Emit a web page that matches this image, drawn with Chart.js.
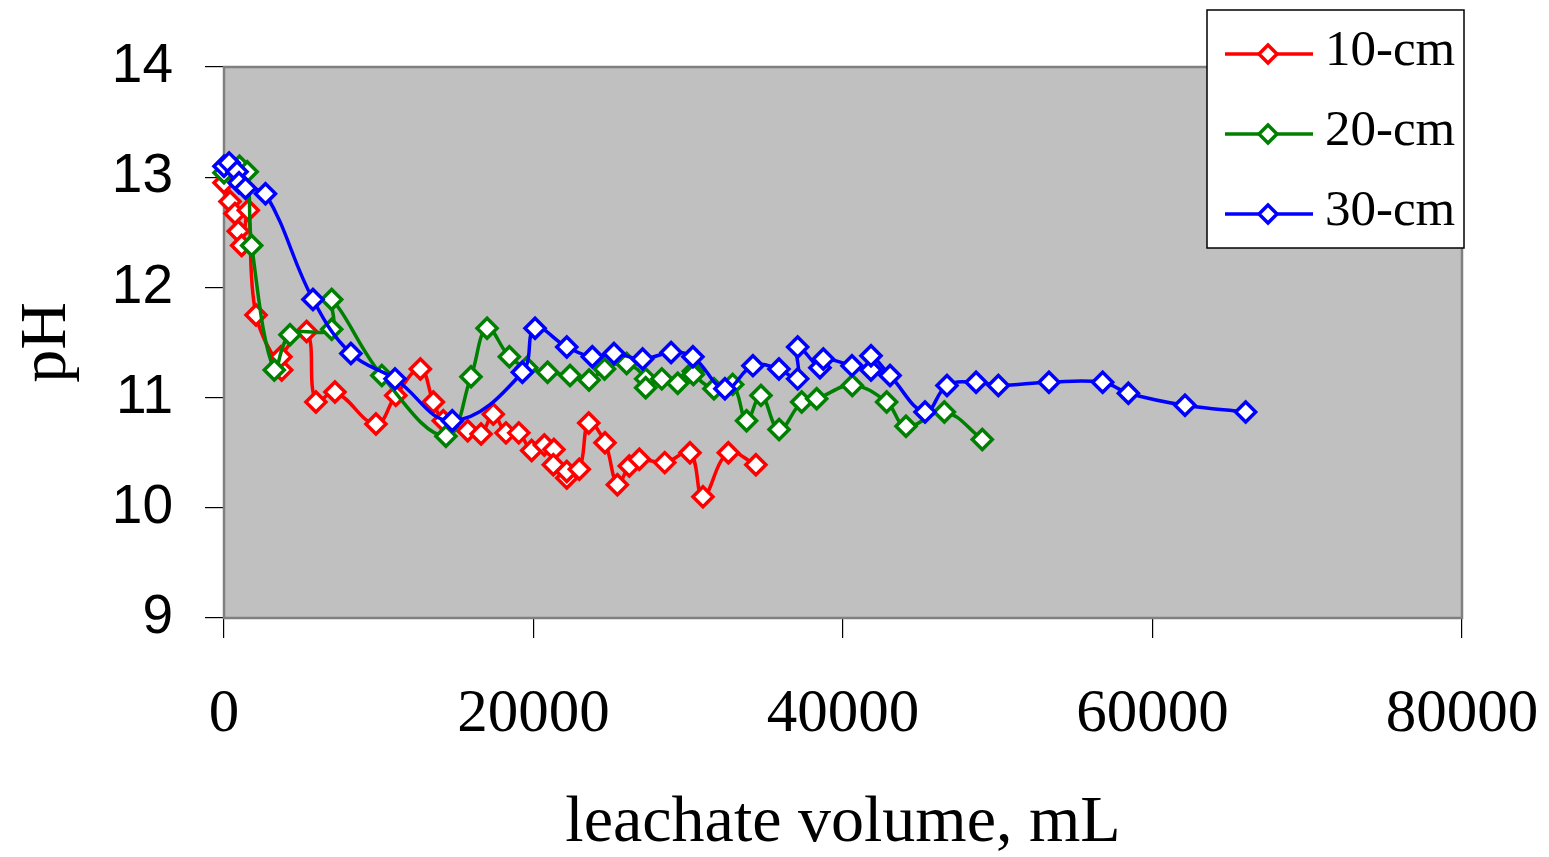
<!DOCTYPE html>
<html>
<head>
<meta charset="utf-8">
<script src="https://cdn.jsdelivr.net/npm/chart.js@4.4.0/dist/chart.umd.min.js"></script>
<style>
  html, body { margin: 0; padding: 0; background: #fff; }
  #wrap { width: 1549px; height: 857px; }
</style>
</head>
<body>
<div id="wrap"><canvas id="myChart" width="1549" height="857"></canvas></div>
<script>
// series labels and colours
const seriesNames = ['10-cm', '20-cm', '30-cm'];
const seriesColors = ['#ff0000', '#008000', '#0000ff'];

// 10-cm column: leachate volume (mL) and pH
const vol10 = [0, 390, 710, 920, 1140, 1570, 2070, 3730, 3680, 5340, 5940, 7170, 9820, 11100,
  12690, 13530, 14170, 15750, 16610, 17400, 18220, 19050, 19880, 20700, 21320, 21280, 22150,
  22150, 22960, 23570, 24620, 25420, 26190, 26840, 28480, 30110, 30950, 32590, 34370];
const ph10 = [12.95, 12.78, 12.67, 12.51, 12.38, 12.70, 11.75, 11.25, 11.37, 11.60, 10.96, 11.05,
  10.76, 11.02, 11.26, 10.96, 10.79, 10.70, 10.67, 10.85, 10.68, 10.68, 10.52, 10.57, 10.53,
  10.39, 10.27, 10.33, 10.35, 10.77, 10.59, 10.21, 10.38, 10.44, 10.41, 10.50, 10.10, 10.50, 10.39];

// 20-cm column
const vol20 = [0, 1000, 1500, 1790, 3250, 4265, 6960, 6960, 10200, 14340, 15960, 17000, 18440,
  19560, 20910, 22360, 23590, 24590, 26020, 27250, 27250, 28290, 29320, 30330, 30330, 31660,
  32870, 33770, 34700, 35870, 37330, 38300, 40600, 42820, 44070, 46550, 49000];
const ph20 = [13.04, 13.10, 13.05, 12.38, 11.25, 11.57, 11.62, 11.89, 11.20, 10.65, 11.19, 11.63,
  11.37, 11.27, 11.23, 11.20, 11.16, 11.26, 11.31, 11.17, 11.09, 11.17, 11.13, 11.24, 11.21,
  11.08, 11.12, 10.79, 11.02, 10.71, 10.96, 10.99, 11.11, 10.96, 10.74, 10.87, 10.62];

// 30-cm column
const vol30 = [0, 330, 840, 970, 1390, 2680, 5750, 8200, 11050, 14750, 19280, 20100, 22150, 23800,
  25200, 27050, 28890, 30300, 32370, 34180, 35860, 37070, 37070, 38510, 38730, 40580, 41810,
  41810, 43040, 45300, 46720, 48600, 50040, 53310, 56780, 58440, 62100, 66020];
const ph30 = [13.10, 13.13, 13.05, 12.95, 12.90, 12.85, 11.89, 11.40, 11.17, 10.79, 11.23, 11.63,
  11.46, 11.37, 11.40, 11.35, 11.41, 11.37, 11.08, 11.29, 11.26, 11.17, 11.46, 11.27, 11.35,
  11.29, 11.25, 11.38, 11.20, 10.87, 11.11, 11.14, 11.11, 11.14, 11.14, 11.04, 10.93, 10.87];

// axis ticks
const xTickValues = [0, 20000, 40000, 60000, 80000];
const yTickValues = [9, 10, 11, 12, 13, 14];

const serif = "'Liberation Serif', 'DejaVu Serif', serif";
const sans = "'Liberation Sans', Arial, sans-serif";

const toPoints = (xs, ys) => xs.map((x, i) => ({ x: x, y: ys[i] }));
const allSeries = [toPoints(vol10, ph10), toPoints(vol20, ph20), toPoints(vol30, ph30)];

const datasets = allSeries.map((pts, i) => ({
  label: seriesNames[i],
  data: pts,
  borderColor: seriesColors[i],
  backgroundColor: '#ffffff',
  borderWidth: 3.5,
  tension: 0.4,
  pointStyle: 'rectRot',
  pointRadius: 10,
  pointBorderWidth: 3.5,
  pointBorderColor: seriesColors[i],
  pointBackgroundColor: '#ffffff',
  clip: false,
  order: 3 - i
}));

// gray plot area with a frame
const plotBackground = {
  id: 'plotBackground',
  beforeDraw(chart) {
    const { ctx, chartArea: a } = chart;
    ctx.save();
    ctx.fillStyle = '#c0c0c0';
    ctx.fillRect(a.left, a.top, a.right - a.left, a.bottom - a.top);
    ctx.restore();
  },
  beforeDatasetsDraw(chart) {
    const { ctx, chartArea: a } = chart;
    ctx.save();
    ctx.strokeStyle = '#808080';
    ctx.lineWidth = 2.5;
    ctx.strokeRect(a.left, a.top, a.right - a.left, a.bottom - a.top);
    ctx.restore();
  }
};

// boxed legend top right: line + diamond + label
const boxLegend = {
  id: 'boxLegend',
  afterDraw(chart) {
    const { ctx } = chart;
    const left = 1207, top = 10, w = 257, h = 238;
    ctx.save();
    ctx.fillStyle = '#ffffff';
    ctx.fillRect(left, top, w, h);
    ctx.strokeStyle = '#000000';
    ctx.lineWidth = 1.5;
    ctx.strokeRect(left, top, w, h);
    const rows = [44, 124, 204];
    chart.data.datasets.forEach((ds, i) => {
      const y = top + rows[i];
      ctx.strokeStyle = ds.borderColor;
      ctx.lineWidth = 3.5;
      ctx.beginPath();
      ctx.moveTo(left + 18, y);
      ctx.lineTo(left + 106, y);
      ctx.stroke();
      ctx.fillStyle = '#ffffff';
      ctx.beginPath();
      ctx.moveTo(left + 61, y - 9);
      ctx.lineTo(left + 70, y);
      ctx.lineTo(left + 61, y + 9);
      ctx.lineTo(left + 52, y);
      ctx.closePath();
      ctx.fill();
      ctx.stroke();
      ctx.fillStyle = '#000000';
      ctx.font = '51px ' + serif;
      ctx.textAlign = 'left';
      ctx.textBaseline = 'middle';
      ctx.fillText(ds.label, left + 118, y - 2);
    });
    ctx.restore();
  }
};

new Chart(document.getElementById('myChart'), {
  type: 'line',
  data: { datasets: datasets },
  plugins: [plotBackground, boxLegend],
  options: {
    responsive: false,
    devicePixelRatio: 1,
    animation: false,
    layout: { padding: { top: 67, right: 87, left: 0, bottom: 0 } },
    plugins: {
      legend: { display: false },
      tooltip: { enabled: false }
    },
    scales: {
      x: {
        type: 'linear',
        min: 0,
        max: 80000,
        afterBuildTicks: (s) => { s.ticks = xTickValues.map(v => ({ value: v })); },
        afterFit: (s) => { s.height = 239; s.paddingLeft = 0; s.paddingRight = 0; },
        border: { display: false },
        grid: { drawOnChartArea: false, drawTicks: true, tickLength: 20, color: '#000', lineWidth: 1.2 },
        ticks: {
          color: '#000',
          padding: 40,
          maxRotation: 0,
          font: { family: serif, size: 61 },
          callback: (v) => String(v)
        },
        title: {
          display: true,
          text: 'leachate volume, mL',
          color: '#000',
          font: { family: serif, size: 66, lineHeight: 1 },
          padding: { top: 0, bottom: 0 }
        }
      },
      y: {
        min: 9,
        max: 14,
        afterBuildTicks: (s) => { s.ticks = yTickValues.map(v => ({ value: v })); },
        afterFit: (s) => { s.width = 224; s.paddingTop = 0; s.paddingBottom = 0; },
        border: { display: false },
        grid: { drawOnChartArea: false, drawTicks: true, tickLength: 19, color: '#000', lineWidth: 1.2 },
        ticks: {
          color: '#000',
          padding: 32,
          font: { family: sans, size: 55 }
        },
        title: {
          display: true,
          text: 'pH',
          color: '#000',
          font: { family: serif, size: 66, lineHeight: 1 },
          padding: { top: 15, bottom: 0 }
        }
      }
    }
  }
});
</script>
</body>
</html>
